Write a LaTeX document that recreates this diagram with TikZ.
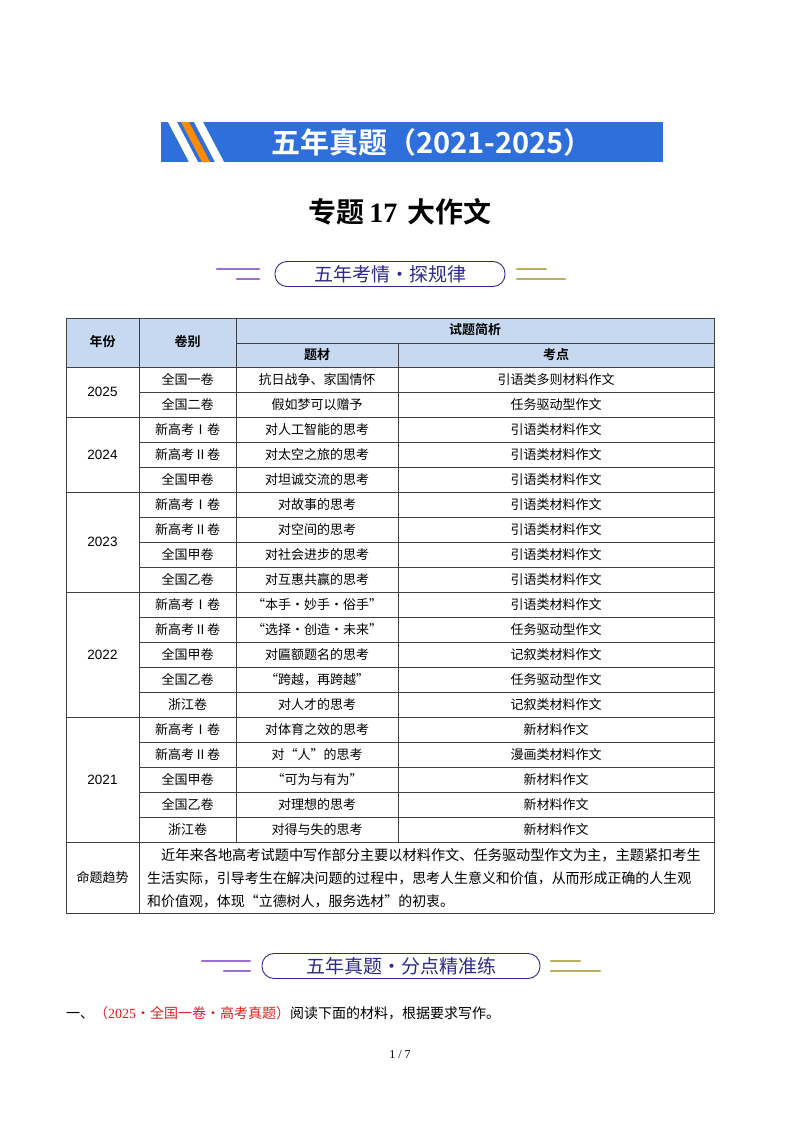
\documentclass[tikz,border=0pt]{standalone}
\usepackage{fontspec}
\setmainfont{Liberation Serif}
\newfontfamily\arialf{Liberation Sans}
\newfontfamily\cjk{Noto Sans CJK SC}
\newfontfamily\cjkb{Noto Sans CJK SC Bold}
\definecolor{bannerblue}{HTML}{2F6FDC}
\definecolor{hdrfill}{HTML}{C6D9F0}
\definecolor{navy}{HTML}{2E2A88}
\definecolor{lpurple}{HTML}{9A6FD0}
\definecolor{lolive}{HTML}{B8B060}
\definecolor{redtxt}{HTML}{E0201E}
\begin{document}
\begin{tikzpicture}[x=1pt,y=-1pt,
  cell/.style={font=\cjk\fontsize{13}{13}\selectfont,inner sep=0pt},
  hcell/.style={font=\cjkb\fontsize{13}{13}\selectfont,inner sep=0pt},
  grid/.style={draw=black!75,line width=0.6pt},
  sechdr/.style={draw=navy,line width=0.9pt,rounded corners=12pt,minimum height=25pt,text=navy,font=\cjk\fontsize{19}{20}\selectfont,inner sep=0pt},
  deco/.style={line width=2.6pt,line cap=round}]
\useasboundingbox (0,0) rectangle (800,1132);
% banner
\fill[bannerblue] (161,122) rectangle (663,162);
\fill[white] (168,122)--(177,122)--(198,162)--(189,162)--cycle;
\fill[orange!90!yellow] (181,122)--(189,122)--(210,162)--(202,162)--cycle;
\fill[white] (194,122)--(203,122)--(224,162)--(215,162)--cycle;
\node[text=white,font=\cjkb\fontsize{29}{30}\selectfont,inner sep=0pt] (banner) at (432,142) {五年真题（2021-2025）};
\node[font=\fontsize{28}{28}\selectfont,inner sep=0pt] (title) at (400,212) {{\cjkb 专题}\,\textbf{17}\hspace{10pt}{\cjkb 大作文}};
% section header 1
\node[sechdr,minimum width=230pt] (sec1) at (390,274) {五年考情·探规律};
\draw[deco,lpurple] (217,269)--(259,269);
\draw[deco,lpurple] (237,279)--(259,279);
\draw[deco,lolive] (517,269)--(546,269);
\draw[deco,lolive] (517,279)--(565,279);
% table header
\fill[hdrfill] (66,318) rectangle (714,367);
\node[hcell] (h1) at (102.5,342) {年份};
\node[hcell] (h2) at (187.5,342) {卷别};
\node[hcell] (h3) at (475,330) {试题简析};
\node[hcell] (h4) at (317,355) {题材};
\node[hcell] (h5) at (556,355) {考点};
% rows
\foreach \i/\a/\b/\c in {
1/全国一卷/抗日战争、家国情怀/引语类多则材料作文,
2/全国二卷/假如梦可以赠予/任务驱动型作文,
3/新高考Ⅰ卷/对人工智能的思考/引语类材料作文,
4/新高考Ⅱ卷/对太空之旅的思考/引语类材料作文,
5/全国甲卷/对坦诚交流的思考/引语类材料作文,
6/新高考Ⅰ卷/对故事的思考/引语类材料作文,
7/新高考Ⅱ卷/对空间的思考/引语类材料作文,
8/全国甲卷/对社会进步的思考/引语类材料作文,
9/全国乙卷/对互惠共赢的思考/引语类材料作文,
10/新高考Ⅰ卷/“本手•妙手•俗手”/引语类材料作文,
11/新高考Ⅱ卷/“选择•创造•未来”/任务驱动型作文,
12/全国甲卷/对匾额题名的思考/记叙类材料作文,
13/全国乙卷/“跨越，再跨越”/任务驱动型作文,
14/浙江卷/对人才的思考/记叙类材料作文,
15/新高考Ⅰ卷/对体育之效的思考/新材料作文,
16/新高考Ⅱ卷/对“人”的思考/漫画类材料作文,
17/全国甲卷/“可为与有为”/新材料作文,
18/全国乙卷/对理想的思考/新材料作文,
19/浙江卷/对得与失的思考/新材料作文}{
  \node[cell] (r\i a) at (187.5,{354.5+25*\i}) {\a};
  \node[cell] (r\i b) at (317,{354.5+25*\i}) {\b};
  \node[cell] (r\i c) at (556,{354.5+25*\i}) {\c};
  \draw[grid] (139,{367+25*\i})--(714,{367+25*\i});
}
\foreach \y/\t in {392/2025,454.5/2024,542/2023,654.5/2022,779.5/2021}
  \node[cell,font=\arialf\fontsize{13.5}{13.5}\selectfont] (y\t) at (102.5,\y) {\t};
\foreach \y in {318,367,417,492,592,717,842,913}
  \draw[grid] (66,\y)--(714,\y);
\draw[grid] (236,343)--(714,343);
\draw[grid] (66,318)--(66,913);
\draw[grid] (714,318)--(714,913);
\draw[grid] (139,318)--(139,913);
\draw[grid] (236,318)--(236,842);
\draw[grid] (398,343)--(398,842);
% trend
\node[cell] (trend) at (102.5,877) {命题趋势};
\node[cell,anchor=west,font=\cjk\fontsize{14.2}{14}\selectfont] (t1) at (161,855) {近年来各地高考试题中写作部分主要以材料作文、任务驱动型作文为主，主题紧扣考生};
\node[cell,anchor=west,font=\cjk\fontsize{13.95}{14}\selectfont] (t2) at (147,878) {生活实际，引导考生在解决问题的过程中，思考人生意义和价值，从而形成正确的人生观};
\node[cell,anchor=west,font=\cjk\fontsize{13.95}{14}\selectfont] (t3) at (147,901) {和价值观，体现“立德树人，服务选材”的初衷。};
% section header 2
\node[sechdr,minimum width=278pt] (sec2) at (401,966) {五年真题·分点精准练};
\draw[deco,lpurple] (202,961)--(250,961);
\draw[deco,lpurple] (224,971)--(250,971);
\draw[deco,lolive] (551,961)--(580,961);
\draw[deco,lolive] (551,971)--(600,971);
% question line
\node[anchor=west,inner sep=0pt,font=\fontsize{14}{14}\selectfont] (q1) at (66,1013) {{\cjk 一、}\textcolor{redtxt}{{\cjk （}2025{\cjk ·全国一卷·高考真题）}}{\cjk 阅读下面的材料，根据要求写作。}};
\node[inner sep=0pt,font=\fontsize{12}{12}\selectfont] (pg) at (400,1055) {1 / 7};
\end{tikzpicture}
\end{document}
